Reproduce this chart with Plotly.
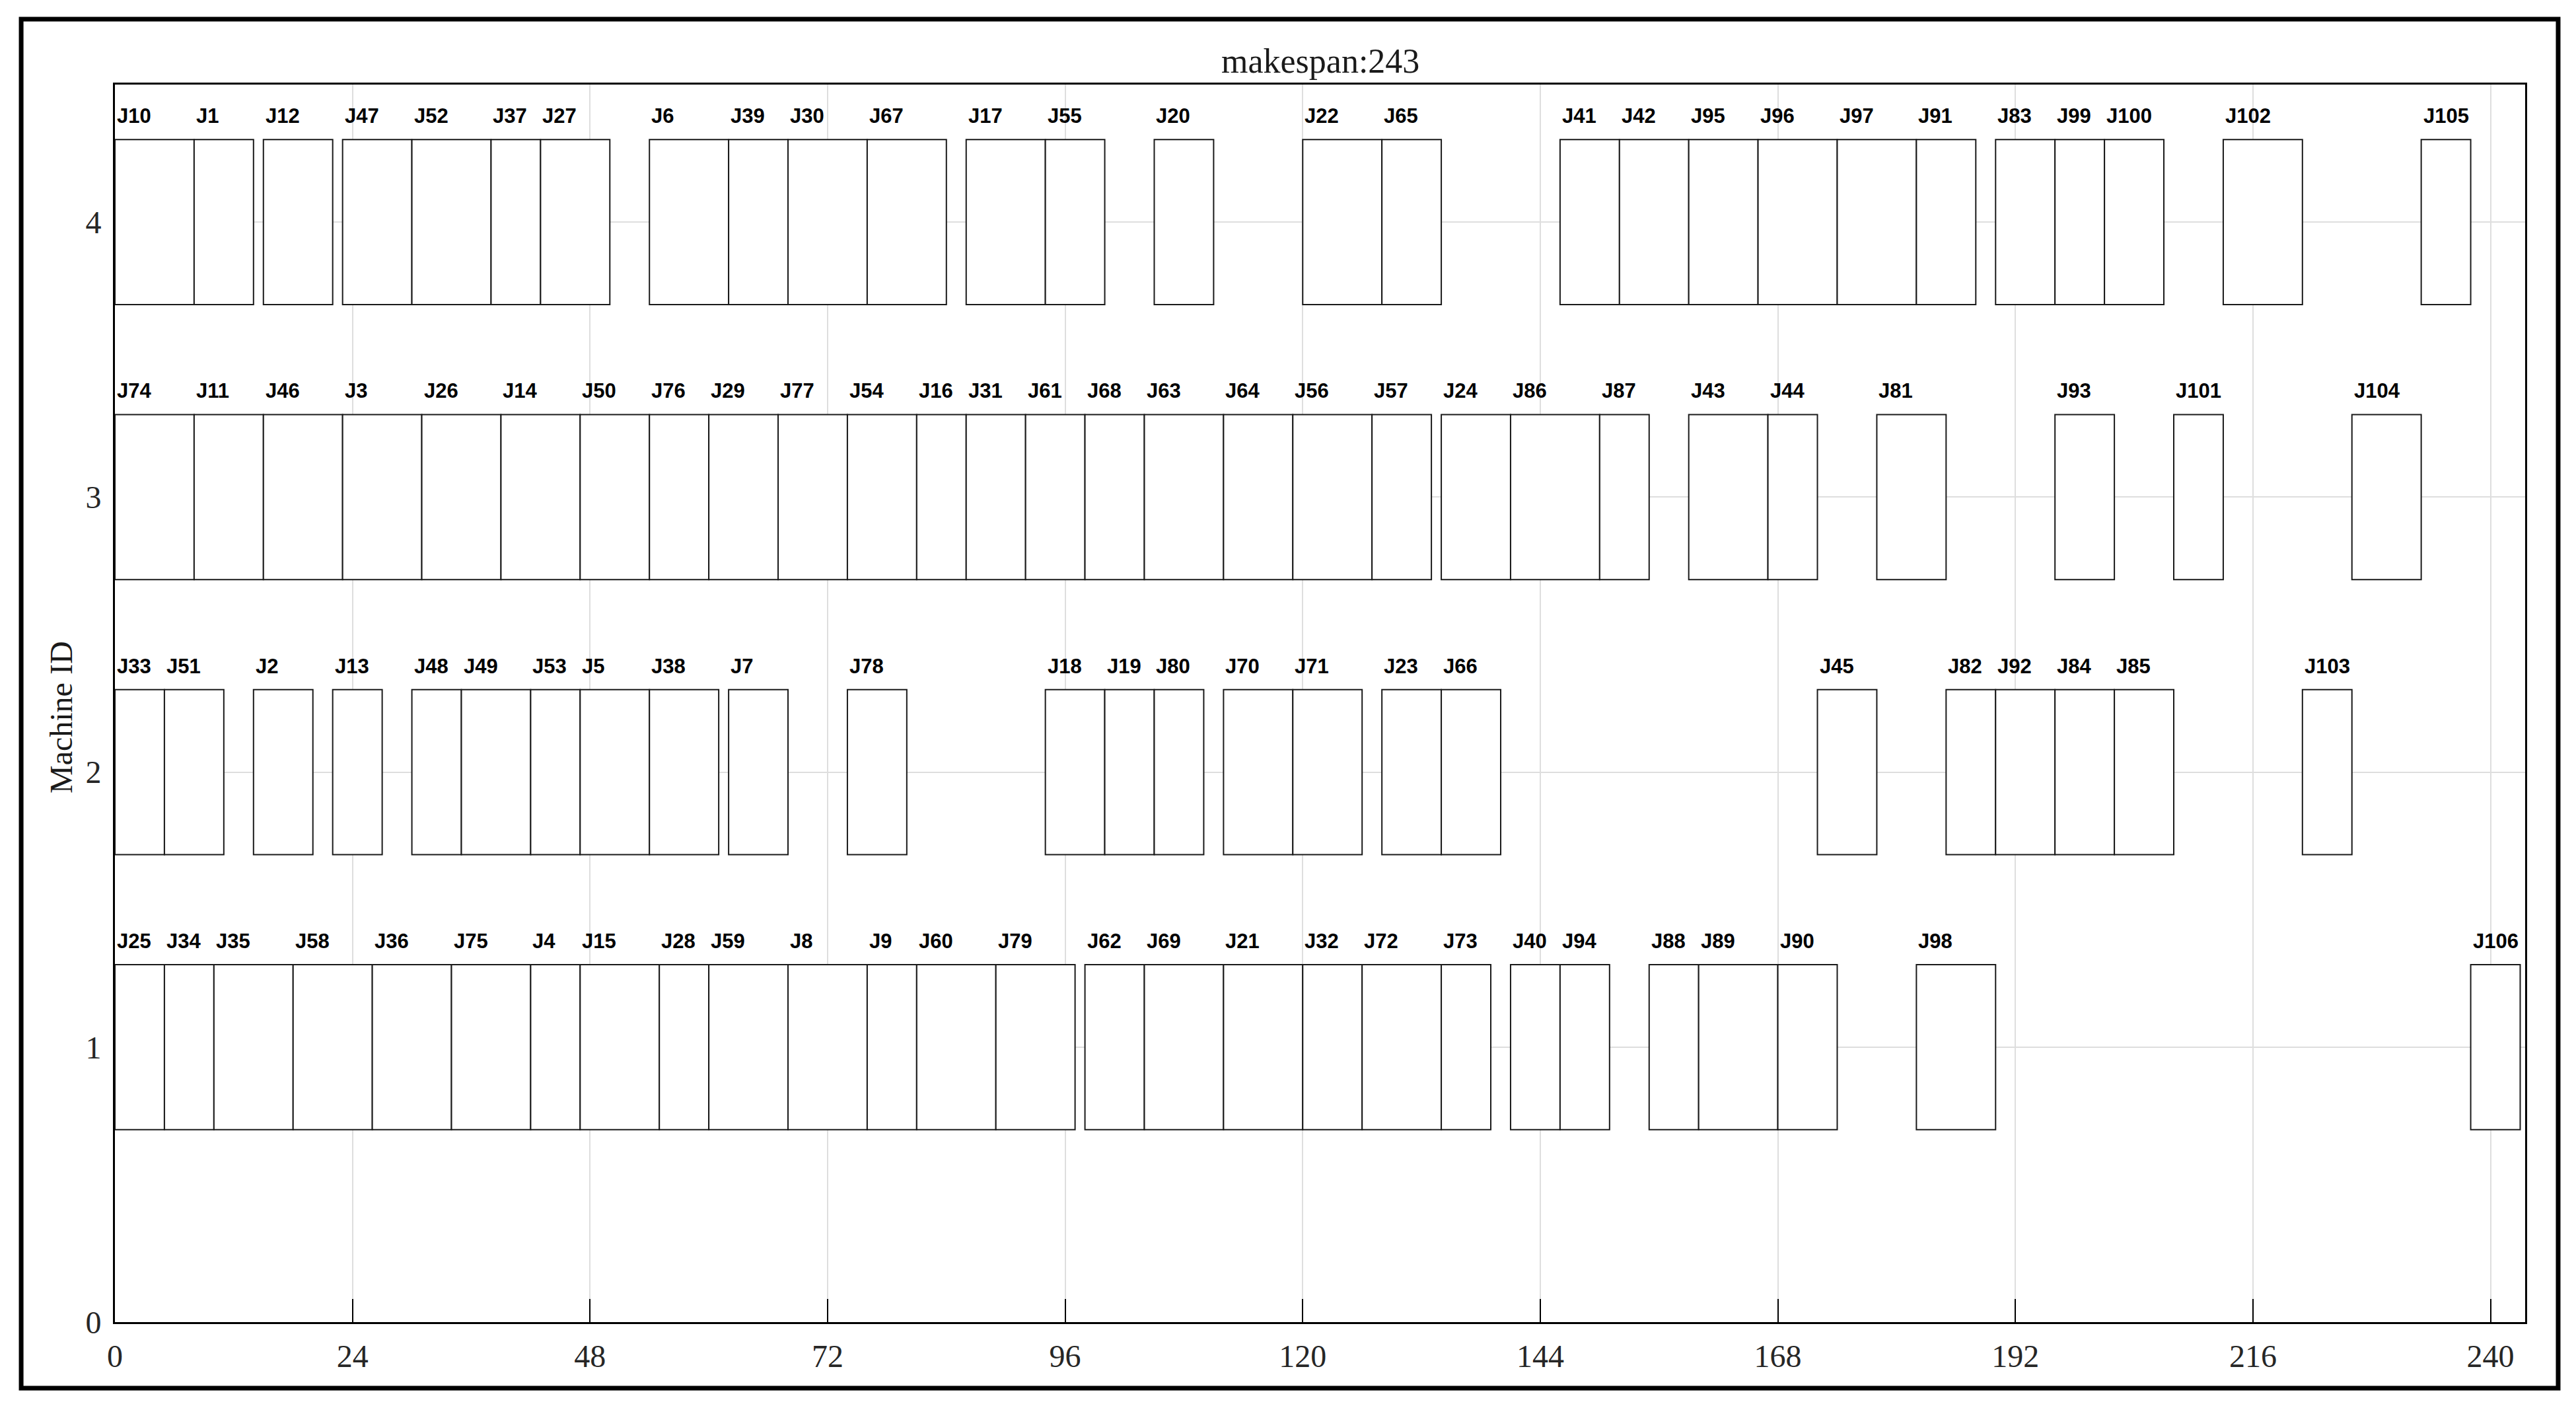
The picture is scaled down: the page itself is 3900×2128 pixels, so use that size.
import plotly.graph_objects as go

# job schedule per machine: name, start, end
m4_jobs = ["J10", "J1", "J12", "J47", "J52", "J37", "J27", "J6", "J39", "J30", "J67", "J17", "J55", "J20",
           "J22", "J65", "J41", "J42", "J95", "J96", "J97", "J91", "J83", "J99", "J100", "J102", "J105"]
m4_start = [0, 8, 15, 23, 30, 38, 43, 54, 62, 68, 76, 86, 94, 105, 120, 128, 146, 152, 159, 166, 174, 182, 190, 196, 201, 213, 233]
m4_end = [8, 14, 22, 30, 38, 43, 50, 62, 68, 76, 84, 94, 100, 111, 128, 134, 152, 159, 166, 174, 182, 188, 196, 201, 207, 221, 238]

m3_jobs = ["J74", "J11", "J46", "J3", "J26", "J14", "J50", "J76", "J29", "J77", "J54", "J16", "J31", "J61",
           "J68", "J63", "J64", "J56", "J57", "J24", "J86", "J87", "J43", "J44", "J81", "J93", "J101", "J104"]
m3_start = [0, 8, 15, 23, 31, 39, 47, 54, 60, 67, 74, 81, 86, 92, 98, 104, 112, 119, 127, 134, 141, 150, 159, 167, 178, 196, 208, 226]
m3_end = [8, 15, 23, 31, 39, 47, 54, 60, 67, 74, 81, 86, 92, 98, 104, 112, 119, 127, 133, 141, 150, 155, 167, 172, 185, 202, 213, 233]

m2_jobs = ["J33", "J51", "J2", "J13", "J48", "J49", "J53", "J5", "J38", "J7", "J78", "J18", "J19", "J80",
           "J70", "J71", "J23", "J66", "J45", "J82", "J92", "J84", "J85", "J103"]
m2_start = [0, 5, 14, 22, 30, 35, 42, 47, 54, 62, 74, 94, 100, 105, 112, 119, 128, 134, 172, 185, 190, 196, 202, 221]
m2_end = [5, 11, 20, 27, 35, 42, 47, 54, 61, 68, 80, 100, 105, 110, 119, 126, 134, 140, 178, 190, 196, 202, 208, 226]

m1_jobs = ["J25", "J34", "J35", "J58", "J36", "J75", "J4", "J15", "J28", "J59", "J8", "J9", "J60", "J79",
           "J62", "J69", "J21", "J32", "J72", "J73", "J40", "J94", "J88", "J89", "J90", "J98", "J106"]
m1_start = [0, 5, 10, 18, 26, 34, 42, 47, 55, 60, 68, 76, 81, 89, 98, 104, 112, 120, 126, 134, 141, 146, 155, 160, 168, 182, 238]
m1_end = [5, 10, 18, 26, 34, 42, 47, 55, 60, 68, 76, 81, 89, 97, 104, 112, 120, 126, 134, 139, 146, 151, 160, 168, 174, 190, 243]

machines = [4, 3, 2, 1]
schedule = {
    4: (m4_jobs, m4_start, m4_end),
    3: (m3_jobs, m3_start, m3_end),
    2: (m2_jobs, m2_start, m2_end),
    1: (m1_jobs, m1_start, m1_end),
}
makespan = 243
y_ticks = [0, 1, 2, 3, 4]

BAR_H = 0.6
SERIF = "Liberation Serif, Times New Roman, serif"
SANS = "Liberation Sans, Arial, sans-serif"

fig = go.Figure()
annotations = []

for m in machines:
    jobs, starts, ends = schedule[m]
    fig.add_trace(go.Bar(
        y=[m] * len(jobs),
        x=[e - s for s, e in zip(starts, ends)],
        base=starts,
        orientation="h",
        width=BAR_H,
        marker=dict(color="white", line=dict(color="#1a1a1a", width=2)),
        hovertext=jobs,
        showlegend=False,
    ))
    for j, s in zip(jobs, starts):
        annotations.append(dict(
            x=s, y=m + BAR_H / 2, xref="x", yref="y",
            text=j, showarrow=False, xanchor="left", yanchor="bottom",
            xshift=1, yshift=16,
            font=dict(family=SANS, size=31, color="black", weight="bold"),
        ))

# title and y label placed as annotations
annotations.append(dict(
    x=0.5, y=1.0192, xref="paper", yref="paper", text=f"makespan:{makespan}",
    showarrow=False, xanchor="center", yanchor="middle",
    font=dict(family=SERIF, size=52, color="#1a1a1a"),
))
annotations.append(dict(
    x=-0.0225, y=0.489, xref="paper", yref="paper", text="Machine ID",
    showarrow=False, xanchor="center", yanchor="middle", textangle=-90,
    font=dict(family=SERIF, size=48, color="#1a1a1a"),
))

fig.update_layout(
    width=3900,
    height=2128,
    margin=dict(l=174, r=77, t=128, b=127),
    paper_bgcolor="white",
    plot_bgcolor="white",
    barmode="overlay",
    annotations=annotations,
    shapes=[dict(
        type="rect", xref="paper", yref="paper",
        x0=-0.0389, x1=1.0137, y0=-0.0534, y1=1.0529,
        line=dict(color="black", width=7), fillcolor="rgba(0,0,0,0)", layer="above",
    )],
)

axis_common = dict(
    showgrid=True, gridcolor="#dedede", gridwidth=2,
    showline=True, linecolor="black", linewidth=3, mirror=True,
    ticks="inside", ticklen=35, tickwidth=2, tickcolor="black",
    tickfont=dict(family=SERIF, size=48, color="#262626"),
    zeroline=False, automargin=False, layer="below traces",
)
fig.update_xaxes(range=[0, makespan + 0.5], tick0=0, dtick=24, ticklabelstandoff=7, **axis_common)
fig.update_yaxes(range=[0, 4.5], tickvals=y_ticks, ticklabelstandoff=8, **axis_common)

# drop the default page margin so the figure sits flush at the window corner
fig.write_html("out.html", config={"displayModeBar": False},
               post_script="document.body.style.margin='0';")
